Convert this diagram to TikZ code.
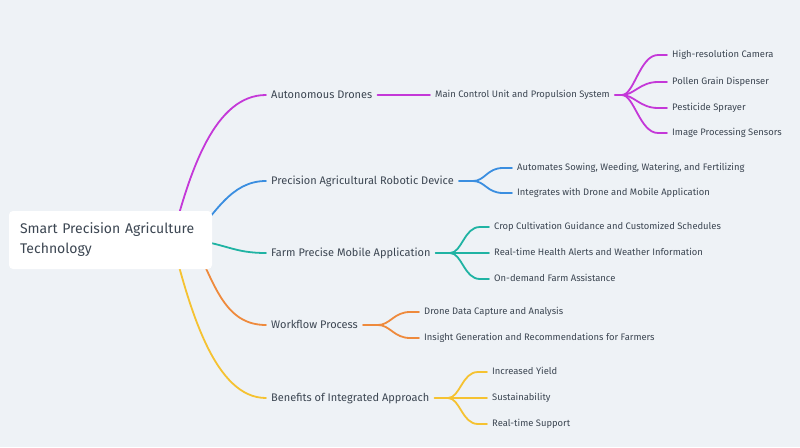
\documentclass[tikz,border=0pt]{standalone}
\usepackage{fontspec}
\setmainfont{Fira Sans}
\usetikzlibrary{calc}
\definecolor{bgc}{HTML}{EEF2F6}
\definecolor{txt}{HTML}{3C4652}
\definecolor{cpur}{HTML}{C438D8}
\definecolor{cblu}{HTML}{3A8EE0}
\definecolor{ctea}{HTML}{1FB3A3}
\definecolor{cora}{HTML}{EE8A3C}
\definecolor{cyel}{HTML}{F5C231}
\pgfdeclarelayer{back}
\pgfdeclarelayer{bg}
\pgfsetlayers{back,bg,main}
\begin{document}
\begin{tikzpicture}[x=1pt,y=-1pt,
  lone/.style={anchor=west,inner xsep=5pt,inner ysep=0pt,text=txt,font=\fontsize{11}{13}\selectfont,text height=8.6pt,text depth=1.4pt},
  ltwo/.style={anchor=west,inner xsep=5pt,inner ysep=0pt,text=txt,font=\fontsize{9.4}{11}\selectfont,text height=7.2pt,text depth=1.3pt},
  conn/.style={line width=1.8pt,line cap=round},
  fork/.style={conn},
  rootbox/.style={fill=white,rounded corners=4pt,minimum width=203pt,minimum height=58pt,text width=181pt,align=left,inner xsep=11pt,text=txt,font=\fontsize{14}{20}\selectfont}
]
\begin{pgfonlayer}{back}
\fill[bgc] (0,0) rectangle (800,447);
\end{pgfonlayer}
\useasboundingbox (0,0) rectangle (800,447);

\node[rootbox] (root) at (110.5,240) {Smart Precision Agriculture\\Technology};

% level 1
\node[lone] (ad) at (266,95) {Autonomous Drones};
\node[lone] (pa) at (266,181) {Precision Agricultural Robotic Device};
\node[lone] (fp) at (266,253) {Farm Precise Mobile Application};
\node[lone] (wp) at (266,325) {Workflow Process};
\node[lone] (ba) at (266,398) {Benefits of Integrated Approach};

% level 2
\node[ltwo] (mc) at (430,95) {Main Control Unit and Propulsion System};
\node[ltwo] (d1) at (667,55) {High-resolution Camera};
\node[ltwo] (d2) at (667,82) {Pollen Grain Dispenser};
\node[ltwo] (d3) at (667,108) {Pesticide Sprayer};
\node[ltwo] (d4) at (667,133) {Image Processing Sensors};

\node[ltwo] (p1) at (512,168) {Automates Sowing, Weeding, Watering, and Fertilizing};
\node[ltwo] (p2) at (512,193) {Integrates with Drone and Mobile Application};

\node[ltwo] (m1) at (489,227) {Crop Cultivation Guidance and Customized Schedules};
\node[ltwo] (m2) at (489,253) {Real-time Health Alerts and Weather Information};
\node[ltwo] (m3) at (489,279) {On-demand Farm Assistance};

\node[ltwo] (w1) at (419,312) {Drone Data Capture and Analysis};
\node[ltwo] (w2) at (419,338) {Insight Generation and Recommendations for Farmers};

\node[ltwo] (b1) at (487,372) {Increased Yield};
\node[ltwo] (b2) at (487,398) {Sustainability};
\node[ltwo] (b3) at (487,424) {Real-time Support};

\coordinate (fd) at (622,95);
\coordinate (fpa) at (473,181);
\coordinate (ffp) at (450,253);
\coordinate (fwp) at (378,325);
\coordinate (fba) at (448,398);

\begin{pgfonlayer}{bg}
% root connectors
\draw[conn,cpur] (172,240) .. controls (190,170) and (215,95) .. (ad.west);
\draw[conn,cblu] (190,240) .. controls (215,215) and (230,181) .. (pa.west);
\draw[conn,ctea] (195,240) .. controls (228,245) and (235,253) .. (fp.west);
\draw[conn,cora] (195,245) .. controls (215,285) and (225,325) .. (wp.west);
\draw[conn,cyel] (172,240) .. controls (190,310) and (215,398) .. (ba.west);
\end{pgfonlayer}

% drones
\draw[conn,cpur] (ad.east) -- (mc.west);
\draw[conn,cpur] (mc.east) -- (fd);
\foreach \c in {d1,d2,d3,d4}{
  \draw[fork,cpur] (fd) .. controls +(12,0) and +(-18,0) .. ($(\c.west)+(-9,0)$) -- (\c.west);
}
% robotic device
\draw[conn,cblu] (pa.east) -- (fpa);
\foreach \c in {p1,p2}{
  \draw[fork,cblu] (fpa) .. controls +(12,0) and +(-16,0) .. ($(\c.west)+(-9,0)$) -- (\c.west);
}
% mobile app
\draw[conn,ctea] (fp.east) -- (ffp);
\foreach \c in {m1,m2,m3}{
  \draw[fork,ctea] (ffp) .. controls +(12,0) and +(-16,0) .. ($(\c.west)+(-9,0)$) -- (\c.west);
}
% workflow
\draw[conn,cora] (wp.east) -- (fwp);
\foreach \c in {w1,w2}{
  \draw[fork,cora] (fwp) .. controls +(12,0) and +(-16,0) .. ($(\c.west)+(-9,0)$) -- (\c.west);
}
% benefits
\draw[conn,cyel] (ba.east) -- (fba);
\foreach \c in {b1,b2,b3}{
  \draw[fork,cyel] (fba) .. controls +(12,0) and +(-16,0) .. ($(\c.west)+(-9,0)$) -- (\c.west);
}
\end{tikzpicture}
\end{document}
